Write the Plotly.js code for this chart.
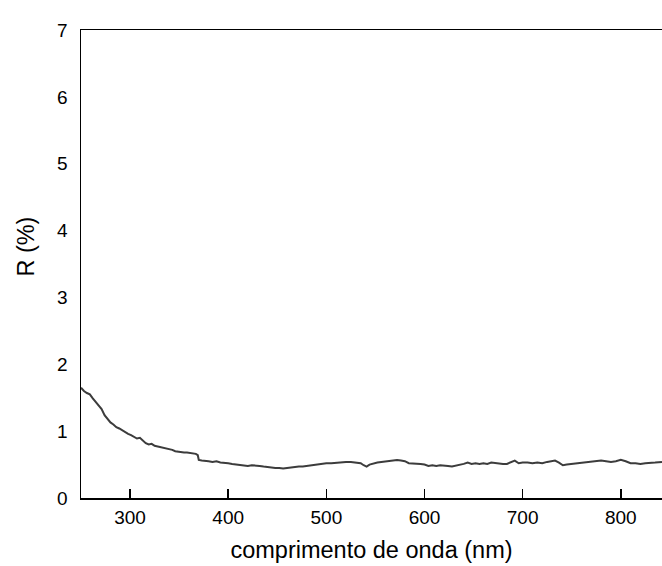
<!DOCTYPE html>
<html>
<head>
<meta charset="utf-8">
<script src="https://cdn.plot.ly/plotly-3.0.1.min.js"></script>
<style>body{margin:0;background:#fff}#chart{width:662px;height:566px}</style>
</head>
<body>
<div id="chart"></div>
<script>
const wavelength = [250,253,256,259,262,265,268,271,274,277,280,283,286,289,292,295,298,301,304,307,310,313,316,319,322,325,328,331,334,337,340,343,346,349,352,355,358,361,364,367,369,370,373,376,380,384,388,392,396,400,404,408,412,416,420,424,428,432,436,440,444,448,452,456,460,464,468,472,476,480,484,488,492,496,500,505,510,515,520,525,530,535,538,541,544,548,552,556,560,564,568,572,576,580,584,588,592,596,600,604,608,612,616,620,624,628,632,636,640,644,648,652,656,660,664,668,672,676,680,684,688,692,696,700,705,710,715,720,725,730,733,737,741,745,750,755,760,765,770,775,780,785,790,795,800,805,810,815,820,825,830,835,842];
const reflectance = [1.65,1.60,1.57,1.55,1.49,1.44,1.39,1.33,1.24,1.19,1.13,1.10,1.06,1.04,1.01,0.99,0.96,0.94,0.91,0.89,0.90,0.86,0.82,0.80,0.81,0.78,0.77,0.77,0.76,0.74,0.73,0.72,0.70,0.69,0.69,0.68,0.68,0.67,0.67,0.66,0.64,0.57,0.56,0.56,0.55,0.54,0.55,0.53,0.53,0.52,0.51,0.50,0.49,0.48,0.48,0.49,0.49,0.48,0.47,0.46,0.46,0.45,0.45,0.44,0.45,0.46,0.46,0.47,0.47,0.48,0.48,0.49,0.50,0.51,0.52,0.52,0.53,0.53,0.54,0.54,0.53,0.52,0.49,0.47,0.50,0.52,0.53,0.54,0.55,0.56,0.57,0.57,0.56,0.55,0.52,0.52,0.52,0.51,0.50,0.48,0.49,0.48,0.49,0.49,0.48,0.47,0.48,0.49,0.51,0.53,0.51,0.52,0.51,0.52,0.51,0.53,0.52,0.52,0.51,0.51,0.53,0.56,0.52,0.53,0.53,0.52,0.53,0.52,0.54,0.55,0.56,0.53,0.49,0.50,0.51,0.52,0.52,0.53,0.54,0.56,0.56,0.55,0.54,0.55,0.57,0.55,0.52,0.52,0.51,0.52,0.53,0.53,0.54];
const xTicks = [300,400,500,600,700,800];
const yTicks = [0,1,2,3,4,5,6,7];
const xTitle = "comprimento de onda (nm)";
const yTitle = "R (%)";

const font = "Liberation Sans, Arial, sans-serif";

Plotly.newPlot("chart", [{
  x: wavelength, y: reflectance, type: "scatter", mode: "lines",
  line: {color: "#3c3c3c", width: 2}, hoverinfo: "skip"
}], {
  width: 662, height: 566,
  margin: {l: 81, r: 0, t: 30, b: 68, pad: 0},
  paper_bgcolor: "#fff", plot_bgcolor: "#fff",
  showlegend: false,
  font: {family: font, color: "#000"},
  xaxis: {
    range: [250, 842], tickvals: xTicks, ticktext: xTicks.map(String),
    ticks: "inside", ticklen: 9, tickwidth: 1.5, tickcolor: "#000",
    showline: true, linecolor: "#000", linewidth: 1.5, mirror: true,
    showgrid: false, zeroline: false,
    tickfont: {size: 19, family: font, color: "#000"},
    ticklabelstandoff: 2,
    title: {text: xTitle, font: {size: 23.5, family: font, color: "#000"}, standoff: 14}
  },
  yaxis: {
    range: [0, 7], tickvals: yTicks, ticktext: yTicks.map(String),
    ticks: "", showline: true, linecolor: "#000", linewidth: 1.5, mirror: false,
    showgrid: false, zeroline: false,
    tickfont: {size: 19, family: font, color: "#000"},
    ticklabelstandoff: 8
  },
  annotations: [{
    text: yTitle, textangle: -90, xref: "paper", yref: "paper",
    x: -0.094, xanchor: "center", y: 0.538, yanchor: "middle",
    showarrow: false, font: {size: 23.5, family: font, color: "#000"}
  }]
}, {staticPlot: true});
</script>
</body>
</html>
